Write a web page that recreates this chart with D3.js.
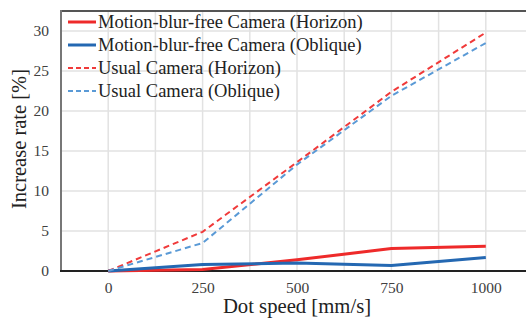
<!DOCTYPE html>
<html><head><meta charset="utf-8">
<script src="https://cdn.jsdelivr.net/npm/d3@7"></script>
<style>body{margin:0;background:#fff}svg{display:block}</style>
</head><body>
<svg id="c" width="526" height="321"></svg>
<script>
const speeds = [0, 250, 500, 750, 1000];
const mbfHorizon = [0, 0.2, 1.4, 2.8, 3.1];
const mbfOblique = [0, 0.8, 1.0, 0.7, 1.7];
const usualHorizon = [0, 4.9, 13.6, 22.4, 29.8];
const usualOblique = [0, 3.5, 13.3, 21.9, 28.5];
const xTicks = [0, 250, 500, 750, 1000];
const yTicks = [0, 5, 10, 15, 20, 25, 30];
const xGrid = [-125, 0, 125, 250, 375, 500, 625, 750, 875, 1000, 1125];
const seriesNames = ["Motion-blur-free Camera (Horizon)", "Motion-blur-free Camera (Oblique)", "Usual Camera (Horizon)", "Usual Camera (Oblique)"];

const series = [
  {name: seriesNames[0], vals: mbfHorizon, color: "#ee2a2a", width: 3, dash: null},
  {name: seriesNames[1], vals: mbfOblique, color: "#2468b2", width: 3, dash: null},
  {name: seriesNames[2], vals: usualHorizon, color: "#f03a3a", width: 2, dash: "6,4"},
  {name: seriesNames[3], vals: usualOblique, color: "#5a9ad6", width: 2, dash: "6,4"}
];

const svg = d3.select("#c");
const L = 61, T = 11, B = 271;
const x = d3.scaleLinear().domain([-125, 1125]).range([L, 533]);
const y = d3.scaleLinear().domain([0, 32.5]).range([B, T]);
const font = "'Liberation Serif','Times New Roman',serif";

// grid
svg.append("g").selectAll("line").data(xGrid).join("line")
  .attr("x1", d => x(d)).attr("x2", d => x(d)).attr("y1", T).attr("y2", B)
  .attr("stroke", "#e2e2e2").attr("stroke-width", 1.5);
svg.append("g").selectAll("line").data(yTicks.slice(1)).join("line")
  .attr("x1", L).attr("x2", 526).attr("y1", d => y(d)).attr("y2", d => y(d))
  .attr("stroke", "#e2e2e2").attr("stroke-width", 1.5);

// axes
const yAxis = d3.axisLeft(y).tickValues(yTicks).tickSize(0).tickPadding(12).tickFormat(d3.format("d"));
const gy = svg.append("g").attr("transform", `translate(${L},0)`).call(yAxis);
gy.select(".domain").remove();
gy.selectAll("text").attr("font-family", font).attr("font-size", 15.5).attr("fill", "#404040");

const xAxis = d3.axisBottom(x).tickValues(xTicks).tickSize(0).tickPadding(11).tickFormat(d3.format("d"));
const gx = svg.append("g").attr("transform", `translate(0,${B})`).call(xAxis);
gx.select(".domain").remove();
gx.selectAll("text").attr("font-family", font).attr("font-size", 15.5).attr("fill", "#404040");

// frame lines
svg.append("line").attr("x1", L).attr("x2", 526).attr("y1", T).attr("y2", T).attr("stroke", "#555").attr("stroke-width", 2);
svg.append("line").attr("x1", L).attr("x2", L).attr("y1", T - 1).attr("y2", B).attr("stroke", "#777").attr("stroke-width", 2);
svg.append("line").attr("x1", L - 1).attr("x2", 526).attr("y1", B).attr("y2", B).attr("stroke", "#222").attr("stroke-width", 2);

// lines
const line = d3.line().x((d, i) => x(speeds[i])).y(d => y(d));
series.forEach(s => {
  svg.append("path").datum(s.vals).attr("d", line)
    .attr("fill", "none").attr("stroke", s.color).attr("stroke-width", s.width)
    .attr("stroke-dasharray", s.dash);
});

// legend
const lg = svg.append("g");
series.forEach((s, i) => {
  const yy = 22 + i * 23;
  lg.append("line").attr("x1", 68).attr("x2", 96).attr("y1", yy).attr("y2", yy)
    .attr("stroke", s.color).attr("stroke-width", s.width).attr("stroke-dasharray", s.dash ? "5,3" : null);
  lg.append("text").attr("x", 98).attr("y", yy + 6).text(s.name)
    .attr("font-family", font).attr("font-size", 18.5).attr("fill", "#222");
});

// titles
svg.append("text").attr("x", 297).attr("y", 313).attr("text-anchor", "middle")
  .attr("font-family", font).attr("font-size", 20.7).attr("fill", "#222").text("Dot speed [mm/s]");
svg.append("text").attr("transform", "translate(26,139) rotate(-90)").attr("text-anchor", "middle")
  .attr("font-family", font).attr("font-size", 20.5).attr("fill", "#222").text("Increase rate [%]");
</script>
</body></html>
